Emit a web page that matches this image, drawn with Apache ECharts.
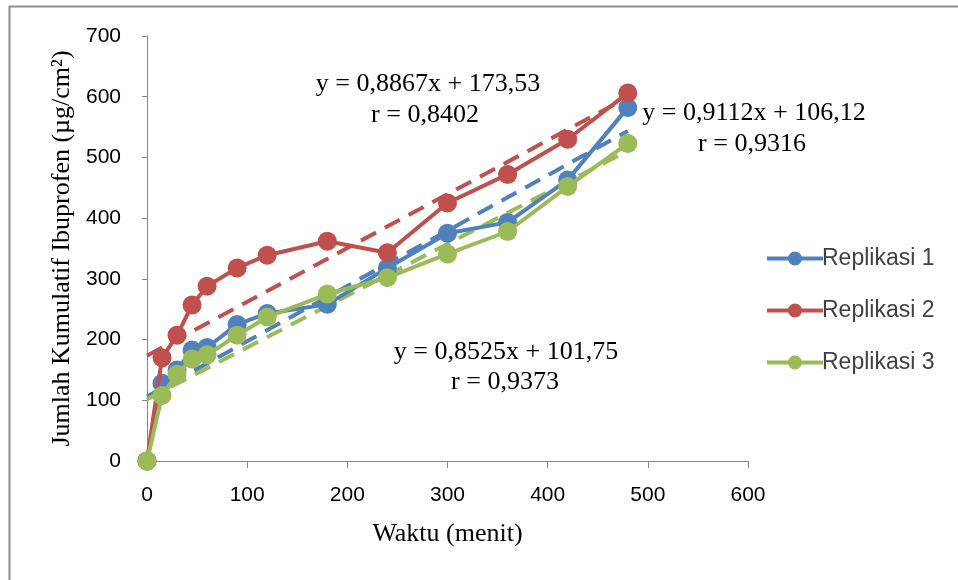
<!DOCTYPE html>
<html><head><meta charset="utf-8">
<script src="https://cdn.jsdelivr.net/npm/echarts@6/dist/echarts.min.js"></script>
<style>html,body{margin:0;padding:0;background:#fff}#c{width:958px;height:580px}</style>
</head><body><div id="c"></div>
<script>
const waktu = [0, 15, 30, 45, 60, 90, 120, 180, 240, 300, 360, 420, 480];
const replikasi1 = [0, 128, 150, 183, 187, 225, 243, 258, 318, 375, 393, 463, 582];
const replikasi2 = [0, 170, 207, 257, 288, 318, 339, 362, 343, 425, 472, 530, 606];
const replikasi3 = [0, 108, 143, 168, 175, 207, 237, 275, 302, 341, 378, 452, 523];
// trend line end points (x = 0 and x = 480)
const trend1 = [[0, 106.1], [480, 543.5]];
const trend2 = [[0, 173.5], [480, 599.1]];
const trend3 = [[0, 101.8], [480, 511.0]];
const xTicks = [0, 100, 200, 300, 400, 500, 600];
const yTicks = [0, 100, 200, 300, 400, 500, 600, 700];
const names = ['Replikasi 1', 'Replikasi 2', 'Replikasi 3'];
const equations = ['y = 0,8867x + 173,53', 'y = 0,9112x + 106,12', 'y = 0,8525x + 101,75'];
const rValues = ['r = 0,8402', 'r = 0,9316', 'r = 0,9373'];
const colors = ['#4F81BD', '#C0504D', '#9BBB59'];

const chart = echarts.init(document.getElementById('c'));
const pair = arr => waktu.map((x, i) => [x, arr[i]]);
const serif = '"Liberation Serif", "Times New Roman", serif';
const sans = '"Liberation Sans", Arial, sans-serif';
const legendIcon = 'path://M0 6 L56 6 L56 10 L0 10 Z M21 8 A7 7 0 1 1 35 8 A7 7 0 1 1 21 8 Z';

const mainSeries = [replikasi1, replikasi2, replikasi3].map((d, i) => ({
  name: names[i], type: 'line', data: pair(d), symbol: 'circle', symbolSize: 19,
  itemStyle: { color: colors[i] }, lineStyle: { color: colors[i], width: 4 },
  z: 3 + i
}));
const trendSeries = [trend1, trend2, trend3].map((d, i) => ({
  name: 'trend' + i, type: 'line', data: d, symbol: 'none',
  lineStyle: { color: colors[i], width: 4, type: [17, 10] }, z: 2, silent: true
}));

const annPos = [[428, 84, 425, 115], [754, 113, 752, 144], [506, 352, 505, 382]];
const txt = (s, x, y) => ({ type: 'text', x: x, y: y, silent: true,
  style: { text: s, font: '26px ' + serif, fill: '#000', textAlign: 'center', textVerticalAlign: 'middle' } });
const annotations = [];
annPos.forEach((p, k) => {
  annotations.push(txt(equations[k], p[0], p[1]));
  annotations.push(txt(rValues[k], p[2], p[3]));
});

chart.setOption({
  animation: false,
  backgroundColor: '#fff',
  grid: { left: 147, right: 210, top: 36, bottom: 119 },
  legend: {
    data: names.map(n => ({ name: n, icon: legendIcon })),
    orient: 'vertical', left: 762, top: 242, itemGap: 29,
    itemWidth: 56, itemHeight: 16,
    textStyle: { fontFamily: sans, fontSize: 23, color: '#404040', padding: [0, 0, 0, -6] }
  },
  xAxis: {
    type: 'value', min: 0, max: 600, interval: 100,
    name: 'Waktu (menit)', nameLocation: 'middle', nameGap: 60,
    nameTextStyle: { fontFamily: serif, fontSize: 26, color: '#000' },
    axisLine: { lineStyle: { color: '#868686', width: 1 } },
    axisTick: { show: true, length: 7, lineStyle: { color: '#868686' } },
    axisLabel: { fontFamily: sans, fontSize: 21, color: '#000', margin: 24,
      formatter: v => xTicks.includes(v) ? String(v) : '' },
    splitLine: { show: false }
  },
  yAxis: {
    type: 'value', min: 0, max: 700, interval: 100,
    name: 'Jumlah Kumulatif Ibuprofen (µg/cm²)', nameLocation: 'middle', nameGap: 72,
    nameTextStyle: { fontFamily: serif, fontSize: 26, color: '#000' },
    axisLine: { show: true, lineStyle: { color: '#868686', width: 1 } },
    axisTick: { show: true, length: 5, lineStyle: { color: '#868686' } },
    axisLabel: { fontFamily: sans, fontSize: 21, color: '#000', margin: 26,
      formatter: v => yTicks.includes(v) ? String(v) : '' },
    splitLine: { show: false }
  },
  graphic: [
    { type: 'rect', shape: { x: 9.5, y: 6.5, width: 1000, height: 1000 }, silent: true,
      style: { fill: 'none', stroke: '#8c8c8c', lineWidth: 2 }, z: -10 },
    ...annotations
  ],
  series: [...trendSeries, ...mainSeries]
});
</script></body></html>
